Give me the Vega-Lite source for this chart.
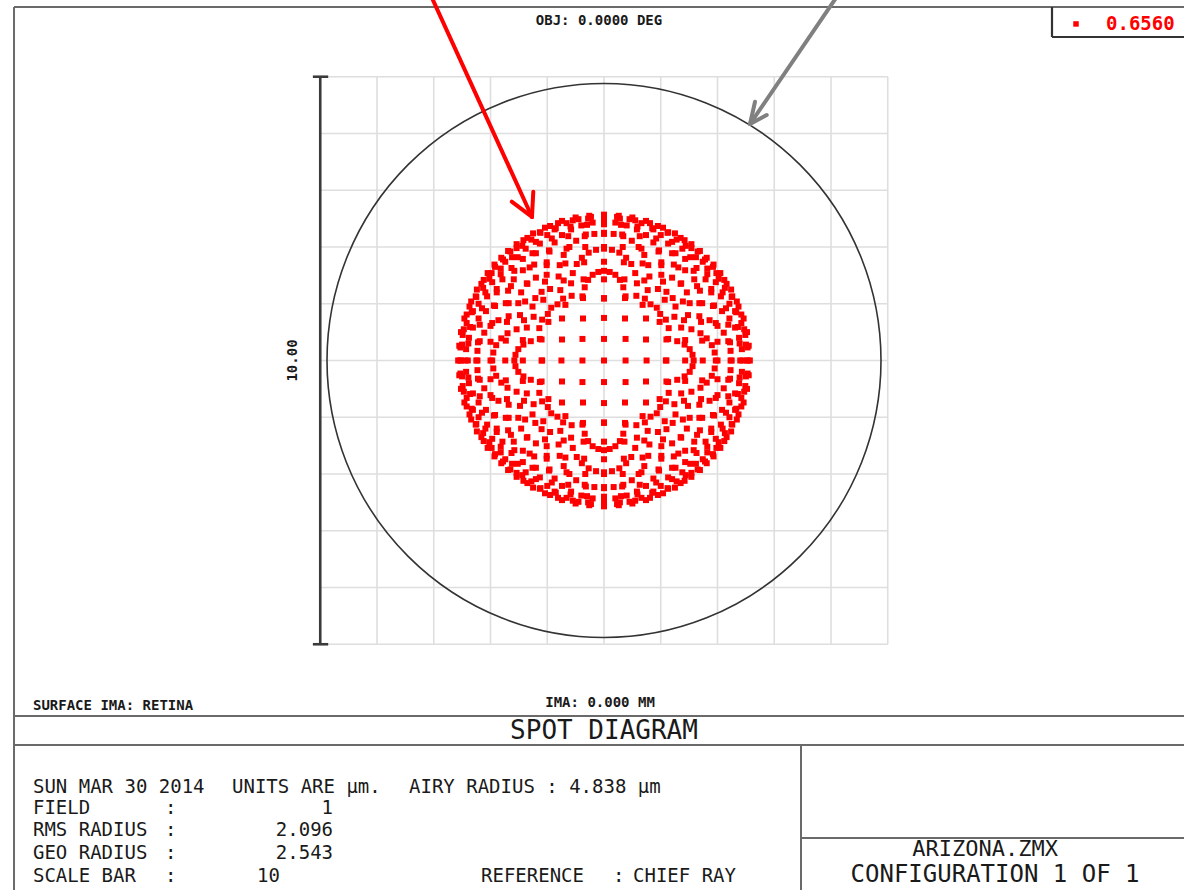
{
"$schema":"https://vega.github.io/schema/vega-lite/v6.json",
"width":1184,"height":890,
"autosize":{"type":"none"},
"padding":0,
"background":"white",
"view":{"stroke":null},
"encoding":{
"x":{"field":"x","type":"quantitative","scale":{"domain":[-10.643,10.22],"nice":false,"zero":false},"axis":null},
"y":{"field":"y","type":"quantitative","scale":{"domain":[-9.33,6.352],"nice":false,"zero":false},"axis":null}
},
"datasets":{
"grid":[{"x":-5,"y":-5,"x2":-5,"y2":5},{"x":-4,"y":-5,"x2":-4,"y2":5},{"x":-3,"y":-5,"x2":-3,"y2":5},{"x":-2,"y":-5,"x2":-2,"y2":5},{"x":-1,"y":-5,"x2":-1,"y2":5},{"x":0,"y":-5,"x2":0,"y2":5},{"x":1,"y":-5,"x2":1,"y2":5},{"x":2,"y":-5,"x2":2,"y2":5},{"x":3,"y":-5,"x2":3,"y2":5},{"x":4,"y":-5,"x2":4,"y2":5},{"x":5,"y":-5,"x2":5,"y2":5},
{"x":-5,"y":-5,"x2":5,"y2":-5},{"x":-5,"y":-4,"x2":5,"y2":-4},{"x":-5,"y":-3,"x2":5,"y2":-3},{"x":-5,"y":-2,"x2":5,"y2":-2},{"x":-5,"y":-1,"x2":5,"y2":-1},{"x":-5,"y":0,"x2":5,"y2":0},{"x":-5,"y":1,"x2":5,"y2":1},{"x":-5,"y":2,"x2":5,"y2":2},{"x":-5,"y":3,"x2":5,"y2":3},{"x":-5,"y":4,"x2":5,"y2":4},{"x":-5,"y":5,"x2":5,"y2":5}],
"bar":[{"x":-5,"y":-5,"x2":-5,"y2":5},{"x":-5.13,"y":5,"x2":-4.86,"y2":5},{"x":-5.13,"y":-5,"x2":-4.86,"y2":-5}],
"frame":[{"x":-10.396,"y":6.229,"x2":10.3,"y2":6.229},{"x":-10.396,"y":6.229,"x2":-10.396,"y2":-9.4},{"x":-10.396,"y":-6.264,"x2":10.3,"y2":-6.264},{"x":-10.396,"y":-6.775,"x2":10.3,"y2":-6.775},{"x":3.471,"y":-6.775,"x2":3.471,"y2":-9.4},{"x":3.471,"y":-8.414,"x2":10.3,"y2":-8.414}],
"box":[{"x":7.894,"y":6.229,"x2":7.894,"y2":5.7},{"x":7.894,"y":5.7,"x2":10.3,"y2":5.7}],
"redarrow":[{"x":-3.031,"y":6.388,"x2":-1.269,"y2":2.529},{"x":-1.626,"y":2.798,"x2":-1.269,"y2":2.529},{"x":-1.246,"y":2.974,"x2":-1.269,"y2":2.529}],
"grayarrow":[{"x":4.088,"y":6.388,"x2":2.573,"y2":4.167},{"x":2.661,"y":4.56,"x2":2.573,"y2":4.167},{"x":2.867,"y":4.326,"x2":2.573,"y2":4.167}],
"airy":[{"x":0,"y":0}],
"legdot":[{"x":8.317,"y":5.93}],
"leg":[{"x":8.846,"y":5.93,"t":"0.6560"}],
"small":[{"x":-0.088,"y":5.982,"t":"OBJ: 0.0000 DEG"},{"x":-0.07,"y":-6.035,"t":"IMA: 0.000 MM"}],
"smallleft":[{"x":-10.062,"y":-6.088,"t":"SURFACE IMA: RETINA"}],
"rot":[{"x":-5.48,"y":0,"t":"10.00"}],
"bodyl":[{"x":-10.062,"y":-7.515,"t":"SUN MAR 30 2014"},{"x":-6.555,"y":-7.515,"t":"UNITS ARE µm."},{"x":-3.436,"y":-7.515,"t":"AIRY RADIUS : 4.838 µm"},{"x":-10.062,"y":-7.885,"t":"FIELD"},{"x":-7.736,"y":-7.885,"t":":"},{"x":-10.062,"y":-8.273,"t":"RMS RADIUS"},{"x":-7.736,"y":-8.273,"t":":"},{"x":-10.062,"y":-8.678,"t":"GEO RADIUS"},{"x":-7.736,"y":-8.678,"t":":"},{"x":-10.062,"y":-9.084,"t":"SCALE BAR"},{"x":-7.736,"y":-9.084,"t":":"},{"x":-2.167,"y":-9.084,"t":"REFERENCE"},{"x":0.159,"y":-9.084,"t":":"},{"x":0.511,"y":-9.084,"t":"CHIEF RAY"}],
"bodyr":[{"x":-4.775,"y":-7.885,"t":"1"},{"x":-4.775,"y":-8.273,"t":"2.096"},{"x":-4.775,"y":-8.678,"t":"2.543"},{"x":-5.709,"y":-9.084,"t":"10"}],
"title":[{"x":0,"y":-6.529,"t":"SPOT DIAGRAM"}],
"file":[{"x":6.714,"y":-8.608,"t":"ARIZONA.ZMX"}],
"conf":[{"x":6.89,"y":-9.066,"t":"CONFIGURATION 1 OF 1"}],
"dots":[
{"x":0,"y":0},
{"x":0.38,"y":0},{"x":-0.38,"y":0},{"x":0,"y":0.38},{"x":0,"y":-0.38},
{"x":0.75,"y":0},{"x":-0.75,"y":0},{"x":0,"y":0.75},{"x":0,"y":-0.75},
{"x":1.1,"y":0},{"x":-1.1,"y":0},{"x":0,"y":1.1},{"x":0,"y":-1.1},
{"x":1.43,"y":0},{"x":-1.43,"y":0},{"x":0,"y":1.43},{"x":0,"y":-1.43},
{"x":1.74,"y":0},{"x":-1.74,"y":0},{"x":0,"y":1.74},{"x":0,"y":-1.74},
{"x":2.0,"y":0},{"x":-2.0,"y":0},{"x":0,"y":2.0},{"x":0,"y":-2.0},
{"x":2.23,"y":0},{"x":-2.23,"y":0},{"x":0,"y":2.23},{"x":0,"y":-2.23},
{"x":2.4,"y":0},{"x":-2.4,"y":0},{"x":0,"y":2.4},{"x":0,"y":-2.4},
{"x":2.52,"y":0},{"x":-2.52,"y":0},{"x":0,"y":2.52},{"x":0,"y":-2.52},
{"x":2.57,"y":0},{"x":-2.57,"y":0},{"x":0,"y":2.57},{"x":0,"y":-2.57},
{"x":2.54,"y":0},{"x":-2.54,"y":0},{"x":0,"y":2.54},{"x":0,"y":-2.54},
{"x":2.44,"y":0},{"x":-2.44,"y":0},{"x":0,"y":2.44},{"x":0,"y":-2.44},
{"x":2.25,"y":0},{"x":-2.25,"y":0},{"x":0,"y":2.25},{"x":0,"y":-2.25},
{"x":1.97,"y":0},{"x":-1.97,"y":0},{"x":0,"y":1.97},{"x":0,"y":-1.97},
{"x":1.58,"y":0},{"x":-1.58,"y":0},{"x":0,"y":1.58},{"x":0,"y":-1.58},
{"x":1.09,"y":0},{"x":-1.09,"y":0},{"x":0,"y":1.09},{"x":0,"y":-1.09},
{"x":0.38,"y":0.38},{"x":-0.38,"y":0.38},{"x":0.38,"y":-0.38},{"x":-0.38,"y":-0.38},
{"x":0.74,"y":0.74},{"x":-0.74,"y":0.74},{"x":0.74,"y":-0.74},{"x":-0.74,"y":-0.74},
{"x":1.07,"y":1.07},{"x":-1.07,"y":1.07},{"x":1.07,"y":-1.07},{"x":-1.07,"y":-1.07},
{"x":1.35,"y":1.35},{"x":-1.35,"y":1.35},{"x":1.35,"y":-1.35},{"x":-1.35,"y":-1.35},
{"x":1.58,"y":1.58},{"x":-1.58,"y":1.58},{"x":1.58,"y":-1.58},{"x":-1.58,"y":-1.58},
{"x":1.74,"y":1.74},{"x":-1.74,"y":1.74},{"x":1.74,"y":-1.74},{"x":-1.74,"y":-1.74},
{"x":1.81,"y":1.81},{"x":-1.81,"y":1.81},{"x":1.81,"y":-1.81},{"x":-1.81,"y":-1.81},
{"x":1.78,"y":1.78},{"x":-1.78,"y":1.78},{"x":1.78,"y":-1.78},{"x":-1.78,"y":-1.78},
{"x":1.63,"y":1.63},{"x":-1.63,"y":1.63},{"x":1.63,"y":-1.63},{"x":-1.63,"y":-1.63},
{"x":1.36,"y":1.36},{"x":-1.36,"y":1.36},{"x":1.36,"y":-1.36},{"x":-1.36,"y":-1.36},
{"x":0.93,"y":0.93},{"x":-0.93,"y":0.93},{"x":0.93,"y":-0.93},{"x":-0.93,"y":-0.93},
{"x":0.74,"y":0.37},{"x":-0.74,"y":0.37},{"x":0.74,"y":-0.37},{"x":-0.74,"y":-0.37},{"x":0.37,"y":0.74},{"x":-0.37,"y":0.74},{"x":0.37,"y":-0.74},{"x":-0.37,"y":-0.74},
{"x":1.1,"y":0.37},{"x":-1.1,"y":0.37},{"x":1.1,"y":-0.37},{"x":-1.1,"y":-0.37},{"x":0.37,"y":1.1},{"x":-0.37,"y":1.1},{"x":0.37,"y":-1.1},{"x":-0.37,"y":-1.1},
{"x":1.09,"y":0.72},{"x":-1.09,"y":0.72},{"x":1.09,"y":-0.72},{"x":-1.09,"y":-0.72},{"x":0.72,"y":1.09},{"x":-0.72,"y":1.09},{"x":0.72,"y":-1.09},{"x":-0.72,"y":-1.09},
{"x":1.43,"y":0.36},{"x":-1.43,"y":0.36},{"x":1.43,"y":-0.36},{"x":-1.43,"y":-0.36},{"x":0.36,"y":1.43},{"x":-0.36,"y":1.43},{"x":0.36,"y":-1.43},{"x":-0.36,"y":-1.43},
{"x":1.41,"y":0.71},{"x":-1.41,"y":0.71},{"x":1.41,"y":-0.71},{"x":-1.41,"y":-0.71},{"x":0.71,"y":1.41},{"x":-0.71,"y":1.41},{"x":0.71,"y":-1.41},{"x":-0.71,"y":-1.41},
{"x":1.39,"y":1.04},{"x":-1.39,"y":1.04},{"x":1.39,"y":-1.04},{"x":-1.39,"y":-1.04},{"x":1.04,"y":1.39},{"x":-1.04,"y":1.39},{"x":1.04,"y":-1.39},{"x":-1.04,"y":-1.39},
{"x":1.73,"y":0.35},{"x":-1.73,"y":0.35},{"x":1.73,"y":-0.35},{"x":-1.73,"y":-0.35},{"x":0.35,"y":1.73},{"x":-0.35,"y":1.73},{"x":0.35,"y":-1.73},{"x":-0.35,"y":-1.73},
{"x":1.71,"y":0.68},{"x":-1.71,"y":0.68},{"x":1.71,"y":-0.68},{"x":-1.71,"y":-0.68},{"x":0.68,"y":1.71},{"x":-0.68,"y":1.71},{"x":0.68,"y":-1.71},{"x":-0.68,"y":-1.71},
{"x":1.68,"y":1.01},{"x":-1.68,"y":1.01},{"x":1.68,"y":-1.01},{"x":-1.68,"y":-1.01},{"x":1.01,"y":1.68},{"x":-1.01,"y":1.68},{"x":1.01,"y":-1.68},{"x":-1.01,"y":-1.68},
{"x":1.64,"y":1.31},{"x":-1.64,"y":1.31},{"x":1.64,"y":-1.31},{"x":-1.64,"y":-1.31},{"x":1.31,"y":1.64},{"x":-1.31,"y":1.64},{"x":1.31,"y":-1.64},{"x":-1.31,"y":-1.64},
{"x":2.0,"y":0.33},{"x":-2.0,"y":0.33},{"x":2.0,"y":-0.33},{"x":-2.0,"y":-0.33},{"x":0.33,"y":2.0},{"x":-0.33,"y":2.0},{"x":0.33,"y":-2.0},{"x":-0.33,"y":-2.0},
{"x":1.97,"y":0.66},{"x":-1.97,"y":0.66},{"x":1.97,"y":-0.66},{"x":-1.97,"y":-0.66},{"x":0.66,"y":1.97},{"x":-0.66,"y":1.97},{"x":0.66,"y":-1.97},{"x":-0.66,"y":-1.97},
{"x":1.94,"y":0.97},{"x":-1.94,"y":0.97},{"x":1.94,"y":-0.97},{"x":-1.94,"y":-0.97},{"x":0.97,"y":1.94},{"x":-0.97,"y":1.94},{"x":0.97,"y":-1.94},{"x":-0.97,"y":-1.94},
{"x":1.89,"y":1.26},{"x":-1.89,"y":1.26},{"x":1.89,"y":-1.26},{"x":-1.89,"y":-1.26},{"x":1.26,"y":1.89},{"x":-1.26,"y":1.89},{"x":1.26,"y":-1.89},{"x":-1.26,"y":-1.89},
{"x":1.82,"y":1.52},{"x":-1.82,"y":1.52},{"x":1.82,"y":-1.52},{"x":-1.82,"y":-1.52},{"x":1.52,"y":1.82},{"x":-1.52,"y":1.82},{"x":1.52,"y":-1.82},{"x":-1.52,"y":-1.82},
{"x":2.22,"y":0.32},{"x":-2.22,"y":0.32},{"x":2.22,"y":-0.32},{"x":-2.22,"y":-0.32},{"x":0.32,"y":2.22},{"x":-0.32,"y":2.22},{"x":0.32,"y":-2.22},{"x":-0.32,"y":-2.22},
{"x":2.19,"y":0.63},{"x":-2.19,"y":0.63},{"x":2.19,"y":-0.63},{"x":-2.19,"y":-0.63},{"x":0.63,"y":2.19},{"x":-0.63,"y":2.19},{"x":0.63,"y":-2.19},{"x":-0.63,"y":-2.19},
{"x":2.15,"y":0.92},{"x":-2.15,"y":0.92},{"x":2.15,"y":-0.92},{"x":-2.15,"y":-0.92},{"x":0.92,"y":2.15},{"x":-0.92,"y":2.15},{"x":0.92,"y":-2.15},{"x":-0.92,"y":-2.15},
{"x":2.09,"y":1.2},{"x":-2.09,"y":1.2},{"x":2.09,"y":-1.2},{"x":-2.09,"y":-1.2},{"x":1.2,"y":2.09},{"x":-1.2,"y":2.09},{"x":1.2,"y":-2.09},{"x":-1.2,"y":-2.09},
{"x":2.02,"y":1.44},{"x":-2.02,"y":1.44},{"x":2.02,"y":-1.44},{"x":-2.02,"y":-1.44},{"x":1.44,"y":2.02},{"x":-1.44,"y":2.02},{"x":1.44,"y":-2.02},{"x":-1.44,"y":-2.02},
{"x":1.92,"y":1.65},{"x":-1.92,"y":1.65},{"x":1.92,"y":-1.65},{"x":-1.92,"y":-1.65},{"x":1.65,"y":1.92},{"x":-1.65,"y":1.92},{"x":1.65,"y":-1.92},{"x":-1.65,"y":-1.92},
{"x":2.39,"y":0.3},{"x":-2.39,"y":0.3},{"x":2.39,"y":-0.3},{"x":-2.39,"y":-0.3},{"x":0.3,"y":2.39},{"x":-0.3,"y":2.39},{"x":0.3,"y":-2.39},{"x":-0.3,"y":-2.39},
{"x":2.36,"y":0.59},{"x":-2.36,"y":0.59},{"x":2.36,"y":-0.59},{"x":-2.36,"y":-0.59},{"x":0.59,"y":2.36},{"x":-0.59,"y":2.36},{"x":0.59,"y":-2.36},{"x":-0.59,"y":-2.36},
{"x":2.31,"y":0.87},{"x":-2.31,"y":0.87},{"x":2.31,"y":-0.87},{"x":-2.31,"y":-0.87},{"x":0.87,"y":2.31},{"x":-0.87,"y":2.31},{"x":0.87,"y":-2.31},{"x":-0.87,"y":-2.31},
{"x":2.25,"y":1.12},{"x":-2.25,"y":1.12},{"x":2.25,"y":-1.12},{"x":-2.25,"y":-1.12},{"x":1.12,"y":2.25},{"x":-1.12,"y":2.25},{"x":1.12,"y":-2.25},{"x":-1.12,"y":-2.25},
{"x":2.16,"y":1.35},{"x":-2.16,"y":1.35},{"x":2.16,"y":-1.35},{"x":-2.16,"y":-1.35},{"x":1.35,"y":2.16},{"x":-1.35,"y":2.16},{"x":1.35,"y":-2.16},{"x":-1.35,"y":-2.16},
{"x":2.05,"y":1.54},{"x":-2.05,"y":1.54},{"x":2.05,"y":-1.54},{"x":-2.05,"y":-1.54},{"x":1.54,"y":2.05},{"x":-1.54,"y":2.05},{"x":1.54,"y":-2.05},{"x":-1.54,"y":-2.05},
{"x":1.93,"y":1.69},{"x":-1.93,"y":1.69},{"x":1.93,"y":-1.69},{"x":-1.93,"y":-1.69},{"x":1.69,"y":1.93},{"x":-1.69,"y":1.93},{"x":1.69,"y":-1.93},{"x":-1.69,"y":-1.93},
{"x":2.5,"y":0.28},{"x":-2.5,"y":0.28},{"x":2.5,"y":-0.28},{"x":-2.5,"y":-0.28},{"x":0.28,"y":2.5},{"x":-0.28,"y":2.5},{"x":0.28,"y":-2.5},{"x":-0.28,"y":-2.5},
{"x":2.47,"y":0.55},{"x":-2.47,"y":0.55},{"x":2.47,"y":-0.55},{"x":-2.47,"y":-0.55},{"x":0.55,"y":2.47},{"x":-0.55,"y":2.47},{"x":0.55,"y":-2.47},{"x":-0.55,"y":-2.47},
{"x":2.42,"y":0.81},{"x":-2.42,"y":0.81},{"x":2.42,"y":-0.81},{"x":-2.42,"y":-0.81},{"x":0.81,"y":2.42},{"x":-0.81,"y":2.42},{"x":0.81,"y":-2.42},{"x":-0.81,"y":-2.42},
{"x":2.34,"y":1.04},{"x":-2.34,"y":1.04},{"x":2.34,"y":-1.04},{"x":-2.34,"y":-1.04},{"x":1.04,"y":2.34},{"x":-1.04,"y":2.34},{"x":1.04,"y":-2.34},{"x":-1.04,"y":-2.34},
{"x":2.24,"y":1.25},{"x":-2.24,"y":1.25},{"x":2.24,"y":-1.25},{"x":-2.24,"y":-1.25},{"x":1.25,"y":2.24},{"x":-1.25,"y":2.24},{"x":1.25,"y":-2.24},{"x":-1.25,"y":-2.24},
{"x":2.12,"y":1.42},{"x":-2.12,"y":1.42},{"x":2.12,"y":-1.42},{"x":-2.12,"y":-1.42},{"x":1.42,"y":2.12},{"x":-1.42,"y":2.12},{"x":1.42,"y":-2.12},{"x":-1.42,"y":-2.12},
{"x":1.98,"y":1.54},{"x":-1.98,"y":1.54},{"x":1.98,"y":-1.54},{"x":-1.98,"y":-1.54},{"x":1.54,"y":1.98},{"x":-1.54,"y":1.98},{"x":1.54,"y":-1.98},{"x":-1.54,"y":-1.98},
{"x":1.82,"y":1.62},{"x":-1.82,"y":1.62},{"x":1.82,"y":-1.62},{"x":-1.82,"y":-1.62},{"x":1.62,"y":1.82},{"x":-1.62,"y":1.82},{"x":1.62,"y":-1.82},{"x":-1.62,"y":-1.82},
{"x":2.55,"y":0.26},{"x":-2.55,"y":0.26},{"x":2.55,"y":-0.26},{"x":-2.55,"y":-0.26},{"x":0.26,"y":2.55},{"x":-0.26,"y":2.55},{"x":0.26,"y":-2.55},{"x":-0.26,"y":-2.55},
{"x":2.52,"y":0.5},{"x":-2.52,"y":0.5},{"x":2.52,"y":-0.5},{"x":-2.52,"y":-0.5},{"x":0.5,"y":2.52},{"x":-0.5,"y":2.52},{"x":0.5,"y":-2.52},{"x":-0.5,"y":-2.52},
{"x":2.46,"y":0.74},{"x":-2.46,"y":0.74},{"x":2.46,"y":-0.74},{"x":-2.46,"y":-0.74},{"x":0.74,"y":2.46},{"x":-0.74,"y":2.46},{"x":0.74,"y":-2.46},{"x":-0.74,"y":-2.46},
{"x":2.37,"y":0.95},{"x":-2.37,"y":0.95},{"x":2.37,"y":-0.95},{"x":-2.37,"y":-0.95},{"x":0.95,"y":2.37},{"x":-0.95,"y":2.37},{"x":0.95,"y":-2.37},{"x":-0.95,"y":-2.37},
{"x":2.26,"y":1.13},{"x":-2.26,"y":1.13},{"x":2.26,"y":-1.13},{"x":-2.26,"y":-1.13},{"x":1.13,"y":2.26},{"x":-1.13,"y":2.26},{"x":1.13,"y":-2.26},{"x":-1.13,"y":-2.26},
{"x":2.13,"y":1.28},{"x":-2.13,"y":1.28},{"x":2.13,"y":-1.28},{"x":-2.13,"y":-1.28},{"x":1.28,"y":2.13},{"x":-1.28,"y":2.13},{"x":1.28,"y":-2.13},{"x":-1.28,"y":-2.13},
{"x":1.97,"y":1.38},{"x":-1.97,"y":1.38},{"x":1.97,"y":-1.38},{"x":-1.97,"y":-1.38},{"x":1.38,"y":1.97},{"x":-1.38,"y":1.97},{"x":1.38,"y":-1.97},{"x":-1.38,"y":-1.97},
{"x":1.79,"y":1.43},{"x":-1.79,"y":1.43},{"x":1.79,"y":-1.43},{"x":-1.79,"y":-1.43},{"x":1.43,"y":1.79},{"x":-1.43,"y":1.79},{"x":1.43,"y":-1.79},{"x":-1.43,"y":-1.79},
{"x":1.59,"y":1.43},{"x":-1.59,"y":1.43},{"x":1.59,"y":-1.43},{"x":-1.59,"y":-1.43},{"x":1.43,"y":1.59},{"x":-1.43,"y":1.59},{"x":1.43,"y":-1.59},{"x":-1.43,"y":-1.59},
{"x":2.53,"y":0.23},{"x":-2.53,"y":0.23},{"x":2.53,"y":-0.23},{"x":-2.53,"y":-0.23},{"x":0.23,"y":2.53},{"x":-0.23,"y":2.53},{"x":0.23,"y":-2.53},{"x":-0.23,"y":-2.53},
{"x":2.49,"y":0.45},{"x":-2.49,"y":0.45},{"x":2.49,"y":-0.45},{"x":-2.49,"y":-0.45},{"x":0.45,"y":2.49},{"x":-0.45,"y":2.49},{"x":0.45,"y":-2.49},{"x":-0.45,"y":-2.49},
{"x":2.42,"y":0.66},{"x":-2.42,"y":0.66},{"x":2.42,"y":-0.66},{"x":-2.42,"y":-0.66},{"x":0.66,"y":2.42},{"x":-0.66,"y":2.42},{"x":0.66,"y":-2.42},{"x":-0.66,"y":-2.42},
{"x":2.33,"y":0.85},{"x":-2.33,"y":0.85},{"x":2.33,"y":-0.85},{"x":-2.33,"y":-0.85},{"x":0.85,"y":2.33},{"x":-0.85,"y":2.33},{"x":0.85,"y":-2.33},{"x":-0.85,"y":-2.33},
{"x":2.21,"y":1.0},{"x":-2.21,"y":1.0},{"x":2.21,"y":-1.0},{"x":-2.21,"y":-1.0},{"x":1.0,"y":2.21},{"x":-1.0,"y":2.21},{"x":1.0,"y":-2.21},{"x":-1.0,"y":-2.21},
{"x":2.06,"y":1.13},{"x":-2.06,"y":1.13},{"x":2.06,"y":-1.13},{"x":-2.06,"y":-1.13},{"x":1.13,"y":2.06},{"x":-1.13,"y":2.06},{"x":1.13,"y":-2.06},{"x":-1.13,"y":-2.06},
{"x":1.89,"y":1.2},{"x":-1.89,"y":1.2},{"x":1.89,"y":-1.2},{"x":-1.89,"y":-1.2},{"x":1.2,"y":1.89},{"x":-1.2,"y":1.89},{"x":1.2,"y":-1.89},{"x":-1.2,"y":-1.89},
{"x":1.69,"y":1.23},{"x":-1.69,"y":1.23},{"x":1.69,"y":-1.23},{"x":-1.69,"y":-1.23},{"x":1.23,"y":1.69},{"x":-1.23,"y":1.69},{"x":1.23,"y":-1.69},{"x":-1.23,"y":-1.69},
{"x":1.46,"y":1.2},{"x":-1.46,"y":1.2},{"x":1.46,"y":-1.2},{"x":-1.46,"y":-1.2},{"x":1.2,"y":1.46},{"x":-1.2,"y":1.46},{"x":1.2,"y":-1.46},{"x":-1.2,"y":-1.46},
{"x":1.21,"y":1.1},{"x":-1.21,"y":1.1},{"x":1.21,"y":-1.1},{"x":-1.21,"y":-1.1},{"x":1.1,"y":1.21},{"x":-1.1,"y":1.21},{"x":1.1,"y":-1.21},{"x":-1.1,"y":-1.21},
{"x":2.43,"y":0.2},{"x":-2.43,"y":0.2},{"x":2.43,"y":-0.2},{"x":-2.43,"y":-0.2},{"x":0.2,"y":2.43},{"x":-0.2,"y":2.43},{"x":0.2,"y":-2.43},{"x":-0.2,"y":-2.43},
{"x":2.38,"y":0.4},{"x":-2.38,"y":0.4},{"x":2.38,"y":-0.4},{"x":-2.38,"y":-0.4},{"x":0.4,"y":2.38},{"x":-0.4,"y":2.38},{"x":0.4,"y":-2.38},{"x":-0.4,"y":-2.38},
{"x":2.31,"y":0.58},{"x":-2.31,"y":0.58},{"x":2.31,"y":-0.58},{"x":-2.31,"y":-0.58},{"x":0.58,"y":2.31},{"x":-0.58,"y":2.31},{"x":0.58,"y":-2.31},{"x":-0.58,"y":-2.31},
{"x":2.21,"y":0.74},{"x":-2.21,"y":0.74},{"x":2.21,"y":-0.74},{"x":-2.21,"y":-0.74},{"x":0.74,"y":2.21},{"x":-0.74,"y":2.21},{"x":0.74,"y":-2.21},{"x":-0.74,"y":-2.21},
{"x":2.08,"y":0.87},{"x":-2.08,"y":0.87},{"x":2.08,"y":-0.87},{"x":-2.08,"y":-0.87},{"x":0.87,"y":2.08},{"x":-0.87,"y":2.08},{"x":0.87,"y":-2.08},{"x":-0.87,"y":-2.08},
{"x":1.92,"y":0.96},{"x":-1.92,"y":0.96},{"x":1.92,"y":-0.96},{"x":-1.92,"y":-0.96},{"x":0.96,"y":1.92},{"x":-0.96,"y":1.92},{"x":0.96,"y":-1.92},{"x":-0.96,"y":-1.92},
{"x":1.73,"y":1.01},{"x":-1.73,"y":1.01},{"x":1.73,"y":-1.01},{"x":-1.73,"y":-1.01},{"x":1.01,"y":1.73},{"x":-1.01,"y":1.73},{"x":1.01,"y":-1.73},{"x":-1.01,"y":-1.73},
{"x":1.51,"y":1.01},{"x":-1.51,"y":1.01},{"x":1.51,"y":-1.01},{"x":-1.51,"y":-1.01},{"x":1.01,"y":1.51},{"x":-1.01,"y":1.51},{"x":1.01,"y":-1.51},{"x":-1.01,"y":-1.51},
{"x":1.26,"y":0.95},{"x":-1.26,"y":0.95},{"x":1.26,"y":-0.95},{"x":-1.26,"y":-0.95},{"x":0.95,"y":1.26},{"x":-0.95,"y":1.26},{"x":0.95,"y":-1.26},{"x":-0.95,"y":-1.26},
{"x":0.99,"y":0.82},{"x":-0.99,"y":0.82},{"x":0.99,"y":-0.82},{"x":-0.99,"y":-0.82},{"x":0.82,"y":0.99},{"x":-0.82,"y":0.99},{"x":0.82,"y":-0.99},{"x":-0.82,"y":-0.99},
{"x":2.23,"y":0.17},{"x":-2.23,"y":0.17},{"x":2.23,"y":-0.17},{"x":-2.23,"y":-0.17},{"x":0.17,"y":2.23},{"x":-0.17,"y":2.23},{"x":0.17,"y":-2.23},{"x":-0.17,"y":-2.23},
{"x":2.19,"y":0.34},{"x":-2.19,"y":0.34},{"x":2.19,"y":-0.34},{"x":-2.19,"y":-0.34},{"x":0.34,"y":2.19},{"x":-0.34,"y":2.19},{"x":0.34,"y":-2.19},{"x":-0.34,"y":-2.19},
{"x":2.11,"y":0.49},{"x":-2.11,"y":0.49},{"x":2.11,"y":-0.49},{"x":-2.11,"y":-0.49},{"x":0.49,"y":2.11},{"x":-0.49,"y":2.11},{"x":0.49,"y":-2.11},{"x":-0.49,"y":-2.11},
{"x":2.0,"y":0.61},{"x":-2.0,"y":0.61},{"x":2.0,"y":-0.61},{"x":-2.0,"y":-0.61},{"x":0.61,"y":2.0},{"x":-0.61,"y":2.0},{"x":0.61,"y":-2.0},{"x":-0.61,"y":-2.0},
{"x":1.86,"y":0.71},{"x":-1.86,"y":0.71},{"x":1.86,"y":-0.71},{"x":-1.86,"y":-0.71},{"x":0.71,"y":1.86},{"x":-0.71,"y":1.86},{"x":0.71,"y":-1.86},{"x":-0.71,"y":-1.86},
{"x":1.68,"y":0.78},{"x":-1.68,"y":0.78},{"x":1.68,"y":-0.78},{"x":-1.68,"y":-0.78},{"x":0.78,"y":1.68},{"x":-0.78,"y":1.68},{"x":0.78,"y":-1.68},{"x":-0.78,"y":-1.68},
{"x":1.48,"y":0.8},{"x":-1.48,"y":0.8},{"x":1.48,"y":-0.8},{"x":-1.48,"y":-0.8},{"x":0.8,"y":1.48},{"x":-0.8,"y":1.48},{"x":0.8,"y":-1.48},{"x":-0.8,"y":-1.48},
{"x":1.24,"y":0.77},{"x":-1.24,"y":0.77},{"x":1.24,"y":-0.77},{"x":-1.24,"y":-0.77},{"x":0.77,"y":1.24},{"x":-0.77,"y":1.24},{"x":0.77,"y":-1.24},{"x":-0.77,"y":-1.24},
{"x":0.98,"y":0.68},{"x":-0.98,"y":0.68},{"x":0.98,"y":-0.68},{"x":-0.98,"y":-0.68},{"x":0.68,"y":0.98},{"x":-0.68,"y":0.98},{"x":0.68,"y":-0.98},{"x":-0.68,"y":-0.98},
{"x":1.95,"y":0.14},{"x":-1.95,"y":0.14},{"x":1.95,"y":-0.14},{"x":-1.95,"y":-0.14},{"x":0.14,"y":1.95},{"x":-0.14,"y":1.95},{"x":0.14,"y":-1.95},{"x":-0.14,"y":-1.95},
{"x":1.9,"y":0.27},{"x":-1.9,"y":0.27},{"x":1.9,"y":-0.27},{"x":-1.9,"y":-0.27},{"x":0.27,"y":1.9},{"x":-0.27,"y":1.9},{"x":0.27,"y":-1.9},{"x":-0.27,"y":-1.9},
{"x":1.81,"y":0.39},{"x":-1.81,"y":0.39},{"x":1.81,"y":-0.39},{"x":-1.81,"y":-0.39},{"x":0.39,"y":1.81},{"x":-0.39,"y":1.81},{"x":0.39,"y":-1.81},{"x":-0.39,"y":-1.81},
{"x":1.7,"y":0.48},{"x":-1.7,"y":0.48},{"x":1.7,"y":-0.48},{"x":-1.7,"y":-0.48},{"x":0.48,"y":1.7},{"x":-0.48,"y":1.7},{"x":0.48,"y":-1.7},{"x":-0.48,"y":-1.7},
{"x":1.54,"y":0.55},{"x":-1.54,"y":0.55},{"x":1.54,"y":-0.55},{"x":-1.54,"y":-0.55},{"x":0.55,"y":1.54},{"x":-0.55,"y":1.54},{"x":0.55,"y":-1.54},{"x":-0.55,"y":-1.54},
{"x":1.36,"y":0.58},{"x":-1.36,"y":0.58},{"x":1.36,"y":-0.58},{"x":-1.36,"y":-0.58},{"x":0.58,"y":1.36},{"x":-0.58,"y":1.36},{"x":0.58,"y":-1.36},{"x":-0.58,"y":-1.36},
{"x":1.14,"y":0.57},{"x":-1.14,"y":0.57},{"x":1.14,"y":-0.57},{"x":-1.14,"y":-0.57},{"x":0.57,"y":1.14},{"x":-0.57,"y":1.14},{"x":0.57,"y":-1.14},{"x":-0.57,"y":-1.14},
{"x":1.56,"y":0.1},{"x":-1.56,"y":0.1},{"x":1.56,"y":-0.1},{"x":-1.56,"y":-0.1},{"x":0.1,"y":1.56},{"x":-0.1,"y":1.56},{"x":0.1,"y":-1.56},{"x":-0.1,"y":-1.56},
{"x":1.51,"y":0.2},{"x":-1.51,"y":0.2},{"x":1.51,"y":-0.2},{"x":-1.51,"y":-0.2},{"x":0.2,"y":1.51},{"x":-0.2,"y":1.51},{"x":0.2,"y":-1.51},{"x":-0.2,"y":-1.51},
{"x":1.42,"y":0.28},{"x":-1.42,"y":0.28},{"x":1.42,"y":-0.28},{"x":-1.42,"y":-0.28},{"x":0.28,"y":1.42},{"x":-0.28,"y":1.42},{"x":0.28,"y":-1.42},{"x":-0.28,"y":-1.42},
{"x":1.29,"y":0.34},{"x":-1.29,"y":0.34},{"x":1.29,"y":-0.34},{"x":-1.29,"y":-0.34},{"x":0.34,"y":1.29},{"x":-0.34,"y":1.29},{"x":0.34,"y":-1.29},{"x":-0.34,"y":-1.29},
{"x":1.13,"y":0.38},{"x":-1.13,"y":0.38},{"x":1.13,"y":-0.38},{"x":-1.13,"y":-0.38},{"x":0.38,"y":1.13},{"x":-0.38,"y":1.13},{"x":0.38,"y":-1.13},{"x":-0.38,"y":-1.13}
]
},
"layer":[
{"data":{"name":"grid"},"mark":{"type":"rule","color":"#dedede","strokeWidth":1.6},"encoding":{"x2":{"field":"x2"},"y2":{"field":"y2"}}},
{"data":{"name":"airy"},"mark":{"type":"point","shape":"circle","size":306916,"filled":false,"stroke":"#333333","strokeWidth":1.6,"opacity":1}},
{"data":{"name":"bar"},"mark":{"type":"rule","color":"#3a3a3a","strokeWidth":2.6},"encoding":{"x2":{"field":"x2"},"y2":{"field":"y2"}}},
{"data":{"name":"dots"},"mark":{"type":"point","shape":"square","size":36,"filled":true,"color":"#ff0000","opacity":1,"strokeWidth":0}},
{"data":{"name":"frame"},"mark":{"type":"rule","color":"#6a6a6a","strokeWidth":2},"encoding":{"x2":{"field":"x2"},"y2":{"field":"y2"}}},
{"data":{"name":"box"},"mark":{"type":"rule","color":"#333333","strokeWidth":2.2},"encoding":{"x2":{"field":"x2"},"y2":{"field":"y2"}}},
{"data":{"name":"redarrow"},"mark":{"type":"rule","color":"#ff0000","strokeWidth":4,"strokeCap":"round"},"encoding":{"x2":{"field":"x2"},"y2":{"field":"y2"}}},
{"data":{"name":"grayarrow"},"mark":{"type":"rule","color":"#808080","strokeWidth":4,"strokeCap":"round"},"encoding":{"x2":{"field":"x2"},"y2":{"field":"y2"}}},
{"data":{"name":"legdot"},"mark":{"type":"point","shape":"square","size":30,"filled":true,"color":"#ff0000","opacity":1}},
{"data":{"name":"leg"},"mark":{"type":"text","font":"DejaVu Sans Mono","fontWeight":"bold","fontSize":19,"align":"left","baseline":"middle","color":"#ff0000"},"encoding":{"text":{"field":"t"}}},
{"data":{"name":"small"},"mark":{"type":"text","font":"DejaVu Sans Mono","fontWeight":"bold","fontSize":14,"align":"center","baseline":"middle","color":"#1a1a1a"},"encoding":{"text":{"field":"t"}}},
{"data":{"name":"smallleft"},"mark":{"type":"text","font":"DejaVu Sans Mono","fontWeight":"bold","fontSize":14,"align":"left","baseline":"middle","color":"#1a1a1a"},"encoding":{"text":{"field":"t"}}},
{"data":{"name":"rot"},"mark":{"type":"text","font":"DejaVu Sans Mono","fontWeight":"bold","fontSize":14,"align":"center","baseline":"middle","angle":270,"color":"#1a1a1a"},"encoding":{"text":{"field":"t"}}},
{"data":{"name":"bodyl"},"mark":{"type":"text","font":"DejaVu Sans Mono","fontSize":19,"align":"left","baseline":"middle","color":"#1a1a1a"},"encoding":{"text":{"field":"t"}}},
{"data":{"name":"bodyr"},"mark":{"type":"text","font":"DejaVu Sans Mono","fontSize":19,"align":"right","baseline":"middle","color":"#1a1a1a"},"encoding":{"text":{"field":"t"}}},
{"data":{"name":"title"},"mark":{"type":"text","font":"DejaVu Sans Mono","fontSize":26,"align":"center","baseline":"middle","color":"#1a1a1a"},"encoding":{"text":{"field":"t"}}},
{"data":{"name":"file"},"mark":{"type":"text","font":"DejaVu Sans Mono","fontSize":22,"align":"center","baseline":"middle","color":"#1a1a1a"},"encoding":{"text":{"field":"t"}}},
{"data":{"name":"conf"},"mark":{"type":"text","font":"DejaVu Sans Mono","fontSize":24,"align":"center","baseline":"middle","color":"#1a1a1a"},"encoding":{"text":{"field":"t"}}}
]
}
